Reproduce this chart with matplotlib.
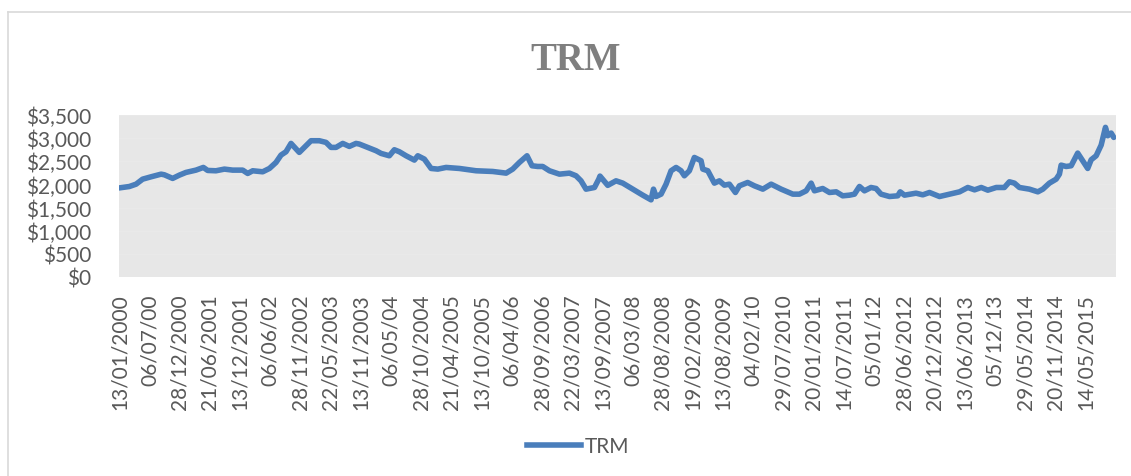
import matplotlib
matplotlib.use("Agg")
import matplotlib.pyplot as plt
from matplotlib.patches import Rectangle
from matplotlib.lines import Line2D
import pandas as pd

# ---- data ----
dates = [
    "2000-01-13", "2000-03-11", "2000-04-19", "2000-05-27", "2000-07-15", "2000-09-11",
    "2000-09-30", "2000-11-17", "2000-12-26", "2001-02-02", "2001-04-01", "2001-05-14",
    "2001-06-08", "2001-07-26", "2001-09-13", "2001-10-31", "2001-12-28", "2002-01-26",
    "2002-02-24", "2002-04-23", "2002-06-01", "2002-07-09", "2002-08-07", "2002-09-05",
    "2002-10-04", "2002-11-21", "2002-12-20", "2003-01-28", "2003-03-17", "2003-04-25",
    "2003-05-24", "2003-06-22", "2003-07-31", "2003-09-07", "2003-10-16", "2003-11-04",
    "2004-01-01", "2004-02-09", "2004-03-09", "2004-04-26", "2004-05-25", "2004-06-23",
    "2004-08-01", "2004-09-18", "2004-10-08", "2004-11-15", "2004-12-24", "2005-02-01",
    "2005-03-21", "2005-06-06", "2005-09-11", "2005-12-16", "2006-03-04", "2006-04-11",
    "2006-05-20", "2006-07-03", "2006-08-01", "2006-09-03", "2006-10-02", "2006-11-10",
    "2007-01-07", "2007-03-06", "2007-04-13", "2007-05-12", "2007-06-10", "2007-07-29",
    "2007-08-23", "2007-08-30", "2007-10-14", "2007-12-01", "2008-01-09", "2008-03-07",
    "2008-05-04", "2008-06-21", "2008-07-05", "2008-07-20", "2008-08-18", "2008-09-16",
    "2008-10-15", "2008-11-13", "2008-12-12", "2008-12-31", "2009-01-29", "2009-02-27",
    "2009-03-19", "2009-04-07", "2009-04-17", "2009-05-16", "2009-06-23", "2009-07-22",
    "2009-08-20", "2009-09-18", "2009-10-23", "2009-11-15", "2010-01-02", "2010-02-10",
    "2010-03-31", "2010-05-18", "2010-07-15", "2010-09-21", "2010-10-29", "2010-12-07",
    "2011-01-05", "2011-01-24", "2011-03-13", "2011-04-21", "2011-05-30", "2011-07-07",
    "2011-08-15", "2011-09-13", "2011-10-12", "2011-11-10", "2011-12-18", "2012-01-16",
    "2012-02-14", "2012-04-03", "2012-05-21", "2012-06-04", "2012-06-29", "2012-09-04",
    "2012-10-13", "2012-11-21", "2013-01-18", "2013-03-17", "2013-05-14", "2013-07-01",
    "2013-08-09", "2013-09-17", "2013-10-25", "2013-12-13", "2014-01-29", "2014-02-27",
    "2014-03-28", "2014-04-26", "2014-06-23", "2014-08-11", "2014-09-09", "2014-10-17",
    "2014-11-25", "2014-12-14", "2014-12-24", "2015-01-22", "2015-02-20", "2015-03-30",
    "2015-04-28", "2015-05-27", "2015-06-16", "2015-07-15", "2015-08-13", "2015-09-07",
    "2015-09-20", "2015-10-10", "2015-10-25",
]
trm = [
    1925, 1955, 2006, 2114, 2165, 2222,
    2208, 2130, 2201, 2259, 2309, 2367,
    2302, 2295, 2331, 2309, 2309, 2237,
    2295, 2273, 2345, 2475, 2634, 2706,
    2886, 2692, 2800, 2944, 2944, 2908,
    2800, 2800, 2886, 2821, 2886, 2872,
    2785, 2728, 2670, 2619, 2749, 2706,
    2619, 2526, 2619, 2547, 2345, 2331,
    2367, 2345, 2295, 2280, 2244, 2331,
    2475, 2619, 2403, 2388, 2388, 2295,
    2222, 2244, 2187, 2078, 1898, 1934,
    2114, 2180, 1980, 2078, 2028, 1898,
    1768, 1667, 1898, 1739, 1790, 2006,
    2295, 2367, 2295, 2187, 2295, 2583,
    2547, 2511, 2331, 2295, 2028, 2078,
    1984, 2006, 1826, 1970, 2042, 1970,
    1898, 2006, 1898, 1790, 1790, 1862,
    2028, 1862, 1912, 1826, 1840, 1754,
    1768, 1790, 1956, 1862, 1934, 1912,
    1790, 1739, 1754, 1840, 1768, 1811,
    1775, 1826, 1739, 1790, 1840, 1934,
    1883, 1934, 1876, 1934, 1934, 2057,
    2028, 1934, 1898, 1840, 1898, 2028,
    2114, 2222, 2417, 2388, 2403, 2677,
    2511, 2345, 2533, 2619, 2850, 3233,
    3052, 3110, 3016,
]
tick_labels = [
    "13/01/2000", "06/07/00", "28/12/2000", "21/06/2001", "13/12/2001", "06/06/02",
    "28/11/2002", "22/05/2003", "13/11/2003", "06/05/04", "28/10/2004", "21/04/2005",
    "13/10/2005", "06/04/06", "28/09/2006", "22/03/2007", "13/09/2007", "06/03/08",
    "28/08/2008", "19/02/2009", "13/08/2009", "04/02/10", "29/07/2010", "20/01/2011",
    "14/07/2011", "05/01/12", "28/06/2012", "20/12/2012", "13/06/2013", "05/12/13",
    "29/05/2014", "20/11/2014", "14/05/2015",
]
y_ticks = [0, 500, 1000, 1500, 2000, 2500, 3000, 3500]
series_name = "TRM"
title = "TRM"


def parse_label(s):
    d, m, y = s.split("/")
    y = int(y)
    if y < 100:
        y += 2000
    return pd.Timestamp(year=y, month=int(m), day=int(d))


x = pd.to_datetime(dates)
tick_pos = [parse_label(s) for s in tick_labels]

# ---- style ----
LINE_C = "#4a7ebb"
TEXT_C = "#595959"
plt.rcParams["font.family"] = ["Lato", "DejaVu Sans"]
plt.rcParams["hatch.linewidth"] = 2.0

W, H = 1131, 477
fig = plt.figure(figsize=(W / 100, H / 100), dpi=100)
fig.patch.set_facecolor("white")

L, R, T, B = 119, 1116, 116, 278
ax = fig.add_axes([L / W, 1 - B / H, (R - L) / W, (B - T) / H])
ax.set_facecolor("#dddddd")
bg = Rectangle((0, 0), 1, 1, transform=ax.transAxes, facecolor="#dddddd",
               edgecolor="#e7e7e7", hatch="\\" * 14, linewidth=0, zorder=0)
ax.add_patch(bg)

ax.plot(x, trm, color=LINE_C, linewidth=4.0, solid_joinstyle="round",
        solid_capstyle="round", zorder=3, label=series_name)

ax.set_ylim(0, 3500)
ax.set_yticks(y_ticks)
ax.set_yticklabels(["$" + f"{v:,.0f}" for v in y_ticks])
ax.yaxis.grid(True, color="#e9e9e9", linewidth=1.0, zorder=1)
ax.set_axisbelow(True)

x0 = pd.Timestamp("2000-01-11")
ax.set_xlim(x0, x0 + pd.Timedelta(days=5779))
ax.set_xticks(tick_pos)
ax.set_xticklabels(tick_labels, rotation=90, va="top", ha="center")

for s in ax.spines.values():
    s.set_visible(False)
ax.tick_params(axis="both", length=0, colors=TEXT_C, labelsize=15)
ax.tick_params(axis="y", pad=20)
ax.tick_params(axis="x", pad=12)

# title
fig.text(576 / W, 1 - 60 / H, title, ha="center", va="center",
         fontsize=28, fontweight="bold", color="#7f7f7f",
         family=["Liberation Serif", "DejaVu Serif"])

# legend
handle = Line2D([], [], color=LINE_C, linewidth=4.0)
fig.legend([handle], [series_name], loc="center", bbox_to_anchor=(578 / W, 1 - 447 / H),
           frameon=False, fontsize=15, labelcolor=TEXT_C, handlelength=2.6,
           handletextpad=0.2)

# chart border (partially visible)
fig.add_artist(Line2D([8 / W, 8 / W], [0, 1 - 13 / H], transform=fig.transFigure,
                      color="#d9d9d9", linewidth=1.2))
fig.add_artist(Line2D([8 / W, 1], [1 - 13 / H, 1 - 13 / H], transform=fig.transFigure,
                      color="#d9d9d9", linewidth=1.2))

fig.savefig("out.png", dpi=100)
